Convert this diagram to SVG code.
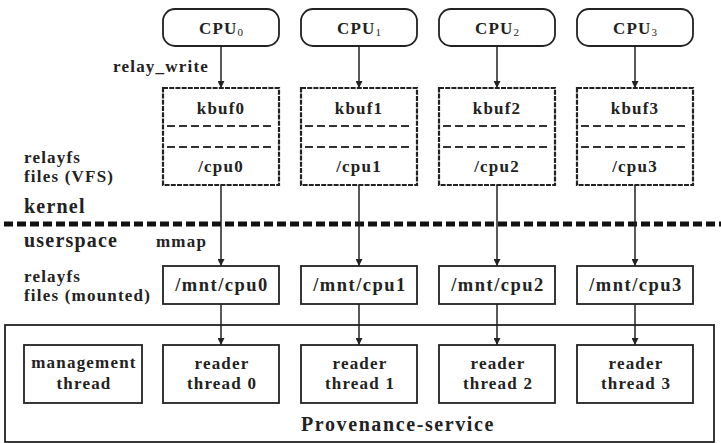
<svg xmlns="http://www.w3.org/2000/svg" width="721" height="443" viewBox="0 0 721 443">
<defs>
<marker id="ah" viewBox="0 0 10 10" refX="10" refY="5" markerWidth="7" markerHeight="7" markerUnits="userSpaceOnUse" orient="auto">
<path d="M0,0 L10,5 L0,10 z" fill="#222"/>
</marker>
</defs>
<style>
.t{font-family:"Liberation Serif","Times New Roman",serif;font-weight:bold;font-size:17px;letter-spacing:1.2px;fill:#222}
.c{text-anchor:middle}
.big{font-size:20px;letter-spacing:1.2px}
.mnt{font-size:18.5px;letter-spacing:1.5px}
.box{fill:#fff;stroke:#222;stroke-width:1.8}
.kb{fill:#fff;stroke:#222;stroke-width:2.2;stroke-dasharray:5 1.2}
.dl{stroke:#333;stroke-width:2;stroke-dasharray:8 4}
.ln{stroke:#222;stroke-width:1.5;fill:none;marker-end:url(#ah)}
.sub{font-size:11px;font-weight:normal;letter-spacing:0}
</style>
<rect width="721" height="443" fill="#fff"/>

<g id="labels">
<text class="t" x="209" y="72" text-anchor="end">relay_write</text>
<text class="t" x="24" y="163">relayfs</text>
<text class="t" x="24" y="182">files (VFS)</text>
<text class="t big" x="24" y="213">kernel</text>
<text class="t big" x="24" y="247">userspace</text>
<text class="t" x="156" y="247">mmap</text>
<text class="t" x="24" y="282">relayfs</text>
<text class="t" x="24" y="301">files (mounted)</text>
</g>

<g id="divider">
<line x1="4" y1="224" x2="721" y2="224" stroke="#111" stroke-width="5" stroke-dasharray="9 4"/>
</g>

<g id="provenance-service">
<rect class="box" x="5" y="325" width="709" height="117"/>
<text class="t c big" x="398" y="431" style="letter-spacing:1.6px">Provenance-service</text>
</g>

<g id="cpu0"><rect class="box" x="163" y="9" width="116" height="37" rx="12"/><text class="t c" x="221" y="34">CPU<tspan class="sub" dy="2">0</tspan></text></g>
<g id="cpu1"><rect class="box" x="301" y="9" width="116" height="37" rx="12"/><text class="t c" x="359" y="34">CPU<tspan class="sub" dy="2">1</tspan></text></g>
<g id="cpu2"><rect class="box" x="439" y="9" width="116" height="37" rx="12"/><text class="t c" x="497" y="34">CPU<tspan class="sub" dy="2">2</tspan></text></g>
<g id="cpu3"><rect class="box" x="577" y="9" width="116" height="37" rx="12"/><text class="t c" x="635" y="34">CPU<tspan class="sub" dy="2">3</tspan></text></g>

<g id="kbuf0"><rect class="kb" x="163" y="88" width="116" height="97"/><line class="dl" x1="167" y1="126" x2="275" y2="126"/><line class="dl" x1="167" y1="147" x2="275" y2="147"/><text class="t c" x="221" y="114">kbuf0</text><text class="t c" x="221" y="172">/cpu0</text></g>
<g id="kbuf1"><rect class="kb" x="301" y="88" width="116" height="97"/><line class="dl" x1="305" y1="126" x2="413" y2="126"/><line class="dl" x1="305" y1="147" x2="413" y2="147"/><text class="t c" x="359" y="114">kbuf1</text><text class="t c" x="359" y="172">/cpu1</text></g>
<g id="kbuf2"><rect class="kb" x="439" y="88" width="116" height="97"/><line class="dl" x1="443" y1="126" x2="551" y2="126"/><line class="dl" x1="443" y1="147" x2="551" y2="147"/><text class="t c" x="497" y="114">kbuf2</text><text class="t c" x="497" y="172">/cpu2</text></g>
<g id="kbuf3"><rect class="kb" x="577" y="88" width="116" height="97"/><line class="dl" x1="581" y1="126" x2="689" y2="126"/><line class="dl" x1="581" y1="147" x2="689" y2="147"/><text class="t c" x="635" y="114">kbuf3</text><text class="t c" x="635" y="172">/cpu3</text></g>

<g id="mnt0"><rect class="box" x="163" y="266" width="116" height="38"/><text class="t c mnt" x="222" y="291">/mnt/cpu0</text></g>
<g id="mnt1"><rect class="box" x="301" y="266" width="116" height="38"/><text class="t c mnt" x="360" y="291">/mnt/cpu1</text></g>
<g id="mnt2"><rect class="box" x="439" y="266" width="116" height="38"/><text class="t c mnt" x="498" y="291">/mnt/cpu2</text></g>
<g id="mnt3"><rect class="box" x="577" y="266" width="116" height="38"/><text class="t c mnt" x="636" y="291">/mnt/cpu3</text></g>

<g id="management"><rect class="box" x="24" y="345" width="118" height="58"/><text class="t c" x="84" y="368">management</text><text class="t c" x="84" y="389">thread</text></g>
<g id="reader0"><rect class="box" x="163" y="345" width="116" height="58"/><text class="t c" x="222" y="369">reader</text><text class="t c" x="222" y="389">thread 0</text></g>
<g id="reader1"><rect class="box" x="301" y="345" width="116" height="58"/><text class="t c" x="360" y="369">reader</text><text class="t c" x="360" y="389">thread 1</text></g>
<g id="reader2"><rect class="box" x="439" y="345" width="116" height="58"/><text class="t c" x="498" y="369">reader</text><text class="t c" x="498" y="389">thread 2</text></g>
<g id="reader3"><rect class="box" x="577" y="345" width="116" height="58"/><text class="t c" x="636" y="369">reader</text><text class="t c" x="636" y="389">thread 3</text></g>

<g id="connectors">
<line class="ln" x1="221" y1="46" x2="221" y2="88"/>
<line class="ln" x1="359" y1="46" x2="359" y2="88"/>
<line class="ln" x1="497" y1="46" x2="497" y2="88"/>
<line class="ln" x1="635" y1="46" x2="635" y2="88"/>
<line class="ln" x1="221" y1="185" x2="221" y2="266"/>
<line class="ln" x1="359" y1="185" x2="359" y2="266"/>
<line class="ln" x1="497" y1="185" x2="497" y2="266"/>
<line class="ln" x1="635" y1="185" x2="635" y2="266"/>
<line class="ln" x1="221" y1="304" x2="221" y2="345"/>
<line class="ln" x1="359" y1="304" x2="359" y2="345"/>
<line class="ln" x1="497" y1="304" x2="497" y2="345"/>
<line class="ln" x1="635" y1="304" x2="635" y2="345"/>
</g>
</svg>
